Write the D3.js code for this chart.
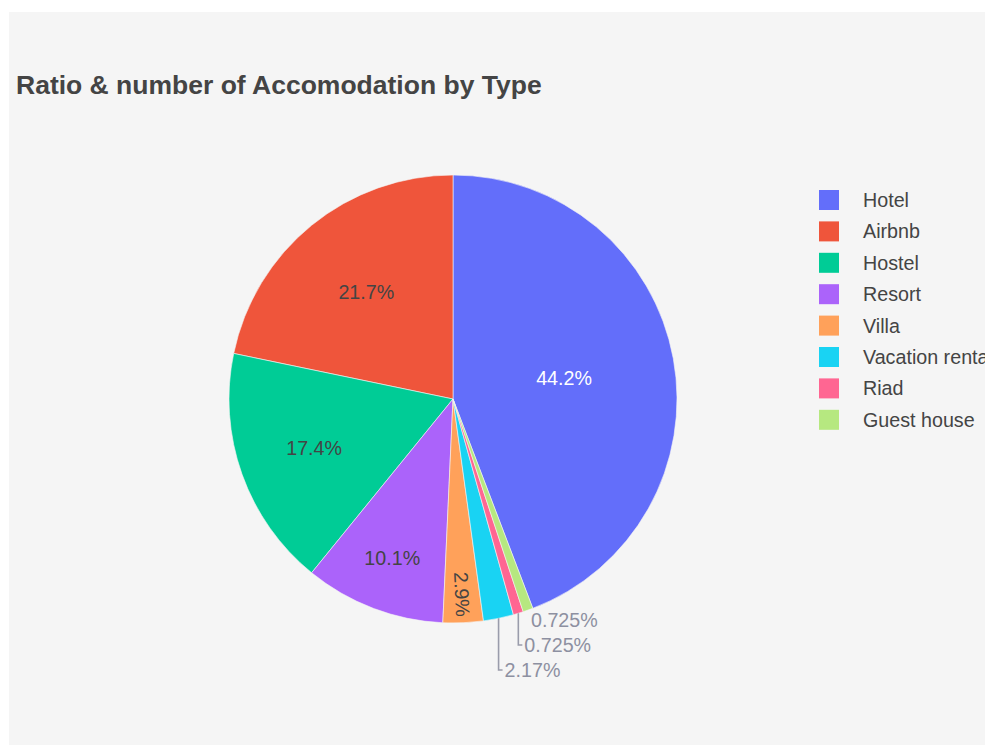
<!DOCTYPE html>
<html>
<head>
<meta charset="utf-8">
<script src="https://cdn.jsdelivr.net/npm/d3@7"></script>
<style>
  body { margin: 0; background: #fff; }
  svg { display: block; font-family: "Liberation Sans", Arial, sans-serif; }
</style>
</head>
<body>
<div id="chart"></div>
<script>
// accommodation counts per type (legend order)
var categories = ["Hotel", "Airbnb", "Hostel", "Resort", "Villa", "Vacation rental", "Riad", "Guest house"];
var counts = [61, 30, 24, 14, 4, 3, 1, 1];
var colors = ["#636efa", "#EF553B", "#00cc96", "#ab63fa", "#FFA15A", "#19d3f3", "#FF6692", "#B6E880"];
var graphTitle = "Ratio & number of Accomodation by Type";

window.onload = function() {

  var w = 985
  var h = 745
  var cx = 453, cy = 399, r = 224

  var total = d3.sum(counts)
  var fmt = d3.format(".3~r")

  var color = d3.scaleOrdinal().domain(categories).range(colors)

  var data = categories.map(function(c, i) { return {name: c, value: counts[i], pct: counts[i] / total * 100}; })

  // counterclockwise, first slice ends at 12 o'clock
  var a0 = 2 * Math.PI * counts[0] / total
  var pie = d3.pie().sort(null).value(function(d) { return d.value; })
    .startAngle(a0).endAngle(a0 - 2 * Math.PI)
  var arcs = pie(data)

  var arc = d3.arc().innerRadius(0).outerRadius(r)

  var svg = d3.select("#chart").append("svg")
    .attr("width", w)
    .attr("height", h)

  // panel background
  svg.append("rect")
    .attr("x", 9).attr("y", 12)
    .attr("width", w).attr("height", h)
    .attr("fill", "#f5f5f5")

  // title
  svg.append("text")
    .attr("x", 16)
    .attr("y", 94)
    .style("font-size", "26.5px")
    .style("font-weight", "bold")
    .attr("fill", "#444")
    .text(graphTitle)

  var g = svg.append("g").attr("transform", "translate(" + cx + "," + cy + ")")

  // slices
  g.selectAll("path.slice")
    .data(arcs)
    .enter().append("path")
    .attr("class", "slice")
    .attr("d", arc)
    .attr("fill", function(d) { return color(d.data.name); })
    .attr("stroke", "#f5f5f5")
    .attr("stroke-width", 0.6)

  var fs = 19.7

  // inside labels
  arcs.forEach(function(d) {
    var mid = (d.startAngle + d.endAngle) / 2
    var half = Math.abs(d.endAngle - d.startAngle) / 2
    var txt = fmt(d.data.pct) + "%"
    var fill = d.data.name == "Hotel" ? "#fff" : "#444"
    if (d.data.pct > 5) {
      var s = Math.sin(Math.min(half, Math.PI / 2))
      var rr = r * (1 - s / (1 + s))
      g.append("text")
        .attr("x", rr * Math.sin(mid))
        .attr("y", -rr * Math.cos(mid))
        .attr("dy", "0.35em")
        .attr("text-anchor", "middle")
        .style("font-size", fs + "px")
        .attr("fill", fill)
        .text(txt)
    } else if (d.data.pct > 2.5) {
      var t = g.append("text")
        .attr("text-anchor", "middle")
        .attr("dy", "0.35em")
        .style("font-size", fs + "px")
        .attr("fill", fill)
        .text(txt)
      var len = t.node().getComputedTextLength()
      var rr2 = r - len / 2 - 6
      var rot = Math.atan2(-Math.cos(mid), Math.sin(mid)) * 180 / Math.PI
      t.attr("transform", "translate(" + (rr2 * Math.sin(mid)) + "," + (-rr2 * Math.cos(mid)) + ") rotate(" + rot + ")")
    }
  })

  // outside labels with leader lines, stacked downward
  var outside = arcs.filter(function(d) { return d.data.pct <= 2.5; })
    .map(function(d) {
      var mid = (d.startAngle + d.endAngle) / 2
      return {d: d, ex: r * Math.sin(mid), ey: -r * Math.cos(mid)}
    })
    .sort(function(a, b) { return a.ey - b.ey; })

  var lineH = 25
  var prevY = null
  outside.forEach(function(o) {
    var y = o.ey + 10
    var x = o.ex + 3
    if (prevY !== null && y < prevY + lineH) {
      y = prevY + lineH
      x = o.ex + 6
      g.append("path")
        .attr("d", "M" + o.ex + "," + o.ey + "V" + y + "H" + (o.ex + 4))
        .attr("fill", "none")
        .attr("stroke", "#9a9cab")
        .attr("stroke-width", 1.6)
    }
    prevY = y
    g.append("text")
      .attr("x", x)
      .attr("y", y)
      .attr("dy", "0.35em")
      .style("font-size", fs + "px")
      .attr("fill", "#8d90a1")
      .text(fmt(o.d.data.pct) + "%")
  })

  // legend
  var ly = d3.scaleBand().domain(categories).range([184.3, 435.5])

  var legend = svg.selectAll(".legend")
    .data(categories)
    .enter().append("g")
    .attr("class", "legend")
    .attr("transform", function(d) { return "translate(0," + (ly(d) + ly.bandwidth() / 2) + ")"; })

  legend.append("rect")
    .attr("x", 819)
    .attr("y", -10)
    .attr("width", 20)
    .attr("height", 20)
    .attr("fill", function(d) { return color(d); })

  legend.append("text")
    .attr("x", 863)
    .attr("dy", "0.35em")
    .style("font-size", fs + "px")
    .attr("fill", "#444")
    .text(function(d) { return d; })
};
</script>
</body>
</html>
